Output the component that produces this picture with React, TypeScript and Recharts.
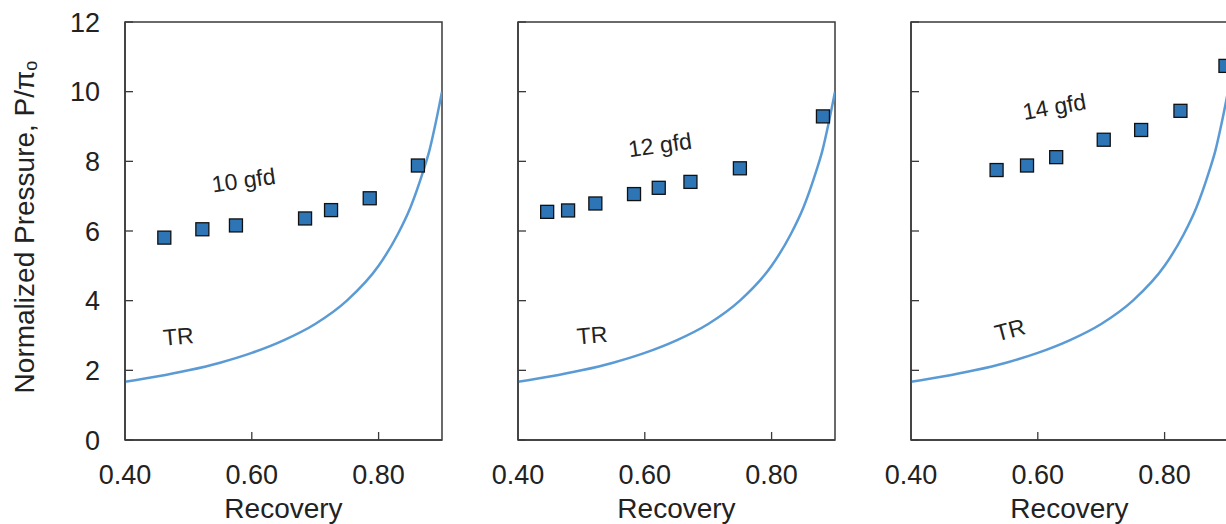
import React from "react"
import { ComposedChart, Line, Scatter, XAxis, YAxis, ReferenceArea, ReferenceDot } from "recharts"

// axis ticks
const recoveryTicks = [0.4, 0.6, 0.8]
const pressureTicks = [0, 2, 4, 6, 8, 10, 12]

// thermodynamic restriction curve (TR)
const trRecovery = [0.4, 0.45, 0.5, 0.55, 0.6, 0.65, 0.7, 0.75, 0.8, 0.83, 0.85, 0.87, 0.88, 0.89, 0.9]
const trPressure = [1.67, 1.82, 2.0, 2.22, 2.5, 2.86, 3.33, 4.0, 5.0, 5.9, 6.67, 7.7, 8.3, 9.1, 10.0]

// measured points, one set per flux
const flux10Recovery = [0.462, 0.522, 0.575, 0.684, 0.725, 0.786, 0.862]
const flux10Pressure = [5.81, 6.05, 6.16, 6.36, 6.6, 6.94, 7.88]

const flux12Recovery = [0.446, 0.479, 0.522, 0.583, 0.622, 0.672, 0.75, 0.881]
const flux12Pressure = [6.55, 6.59, 6.79, 7.06, 7.24, 7.41, 7.8, 9.29]

const flux14Recovery = [0.535, 0.583, 0.629, 0.704, 0.763, 0.825, 0.896]
const flux14Pressure = [7.75, 7.88, 8.12, 8.62, 8.9, 9.45, 10.74]

const fluxLabels = ["10 gfd", "12 gfd", "14 gfd"]
const trLabel = "TR"

const FONT = "'Liberation Sans', Arial, sans-serif"
const TEXT = "#222"
const AXIS = "#3a3a3a"
const MARKER = "#2E75B6"
const CURVE = "#5B9BD5"
const Y_MARGIN = 25

const toPoints = (xs: number[], ys: number[]) => xs.map((x, i) => ({ x, y: ys[i] }))
const trData = toPoints(trRecovery, trPressure)

const panels = [
  { data: toPoints(flux10Recovery, flux10Pressure), label: fluxLabels[0], labelAt: [0.587, 7.46], labelAngle: -8, trAt: [0.484, 2.97], trAngle: -5 },
  { data: toPoints(flux12Recovery, flux12Pressure), label: fluxLabels[1], labelAt: [0.624, 8.47], labelAngle: -8, trAt: [0.517, 3.01], trAngle: -5 },
  { data: toPoints(flux14Recovery, flux14Pressure), label: fluxLabels[2], labelAt: [0.626, 9.57], labelAngle: -10, trAt: [0.556, 3.16], trAngle: -15 },
]

function SquareMarker(props: any) {
  const { cx, cy } = props
  return <rect x={cx - 6.5} y={cy - 6.5} width={13} height={13} fill={MARKER} stroke="#111" strokeWidth={1.3} />
}

function XTick(props: any) {
  const { x, y, payload } = props
  return (
    <g>
      {payload.value > 0.4 && <line x1={x} x2={x} y1={y} y2={y - 8} stroke={AXIS} strokeWidth={1.3} />}
      <text x={x} y={y + 44} textAnchor="middle" fontSize={27} fontFamily={FONT} fill={TEXT}>
        {payload.value.toFixed(2)}
      </text>
    </g>
  )
}

function makeYTick(showLabel: boolean) {
  return (props: any) => {
    const { x, y, payload } = props
    const ax = x + Y_MARGIN
    return (
      <g>
        <line x1={ax} x2={ax + 8} y1={y} y2={y} stroke={AXIS} strokeWidth={1.3} />
        {showLabel && (
          <text x={x} y={y} dy="0.36em" textAnchor="end" fontSize={27} fontFamily={FONT} fill={TEXT}>
            {payload.value}
          </text>
        )}
      </g>
    )
  }
}

function rotatedText(value: string, angle: number) {
  return (props: any) => {
    const { x, y } = props.viewBox
    return (
      <text x={x} y={y} textAnchor="middle" dominantBaseline="central" transform={`rotate(${angle}, ${x}, ${y})`}
        fontSize={23} fontFamily={FONT} fill={TEXT}>
        {value}
      </text>
    )
  }
}

function YTitle(props: any) {
  const vb = props.viewBox
  const cx = vb.x + 24
  const cy = vb.y + vb.height / 2 - 4
  return (
    <text x={cx} y={cy} textAnchor="middle" dominantBaseline="central" transform={`rotate(-90, ${cx}, ${cy})`}
      fontSize={28} fontFamily={FONT} fill={TEXT}>
      Normalized Pressure, P/π<tspan fontSize={18} dy={7}>o</tspan>
    </text>
  )
}

function Panel({ index }: { index: number }) {
  const p = panels[index]
  return (
    <ComposedChart width={445} height={524} margin={{ top: 22, right: 3, left: 0, bottom: 0 }}>
      <XAxis type="number" dataKey="x" domain={[0.4, 0.9]} ticks={recoveryTicks} allowDataOverflow
        height={84} tickSize={0} tickMargin={0} tick={<XTick />} stroke={AXIS} strokeWidth={1.5}
        label={{ value: "Recovery", position: "insideBottom", offset: 6, fontSize: 28, fontFamily: FONT, fill: TEXT }} />
      <YAxis type="number" dataKey="y" domain={[0, 12]} ticks={pressureTicks} allowDataOverflow
        width={125} tickSize={0} tickMargin={Y_MARGIN} tick={makeYTick(index === 0)} stroke={AXIS} strokeWidth={1.5}
        label={index === 0 ? { content: YTitle } : undefined} />
      <ReferenceArea x1={0.4} x2={0.9} y1={0} y2={12} fill="none" stroke={AXIS} strokeWidth={1.5} fillOpacity={0} />
      <Line data={trData} dataKey="y" type="monotone" stroke={CURVE} strokeWidth={2.5} dot={false} isAnimationActive={false} />
      <Scatter data={p.data} dataKey="y" shape={<SquareMarker />} isAnimationActive={false} />
      <ReferenceDot x={p.labelAt[0]} y={p.labelAt[1]} r={0} fill="none" stroke="none" label={rotatedText(p.label, p.labelAngle)} />
      <ReferenceDot x={p.trAt[0]} y={p.trAt[1]} r={0} fill="none" stroke="none" label={rotatedText(trLabel, p.trAngle)} />
    </ComposedChart>
  )
}

export default function App() {
  return (
    <div style={{ position: "absolute", left: 0, top: 0, width: 1226, height: 524, overflow: "hidden", background: "#fff" }}>
      {[0, 1, 2].map((i) => (
        <div key={i} style={{ position: "absolute", left: i * 393, top: 0 }}>
          <Panel index={i} />
        </div>
      ))}
    </div>
  )
}
